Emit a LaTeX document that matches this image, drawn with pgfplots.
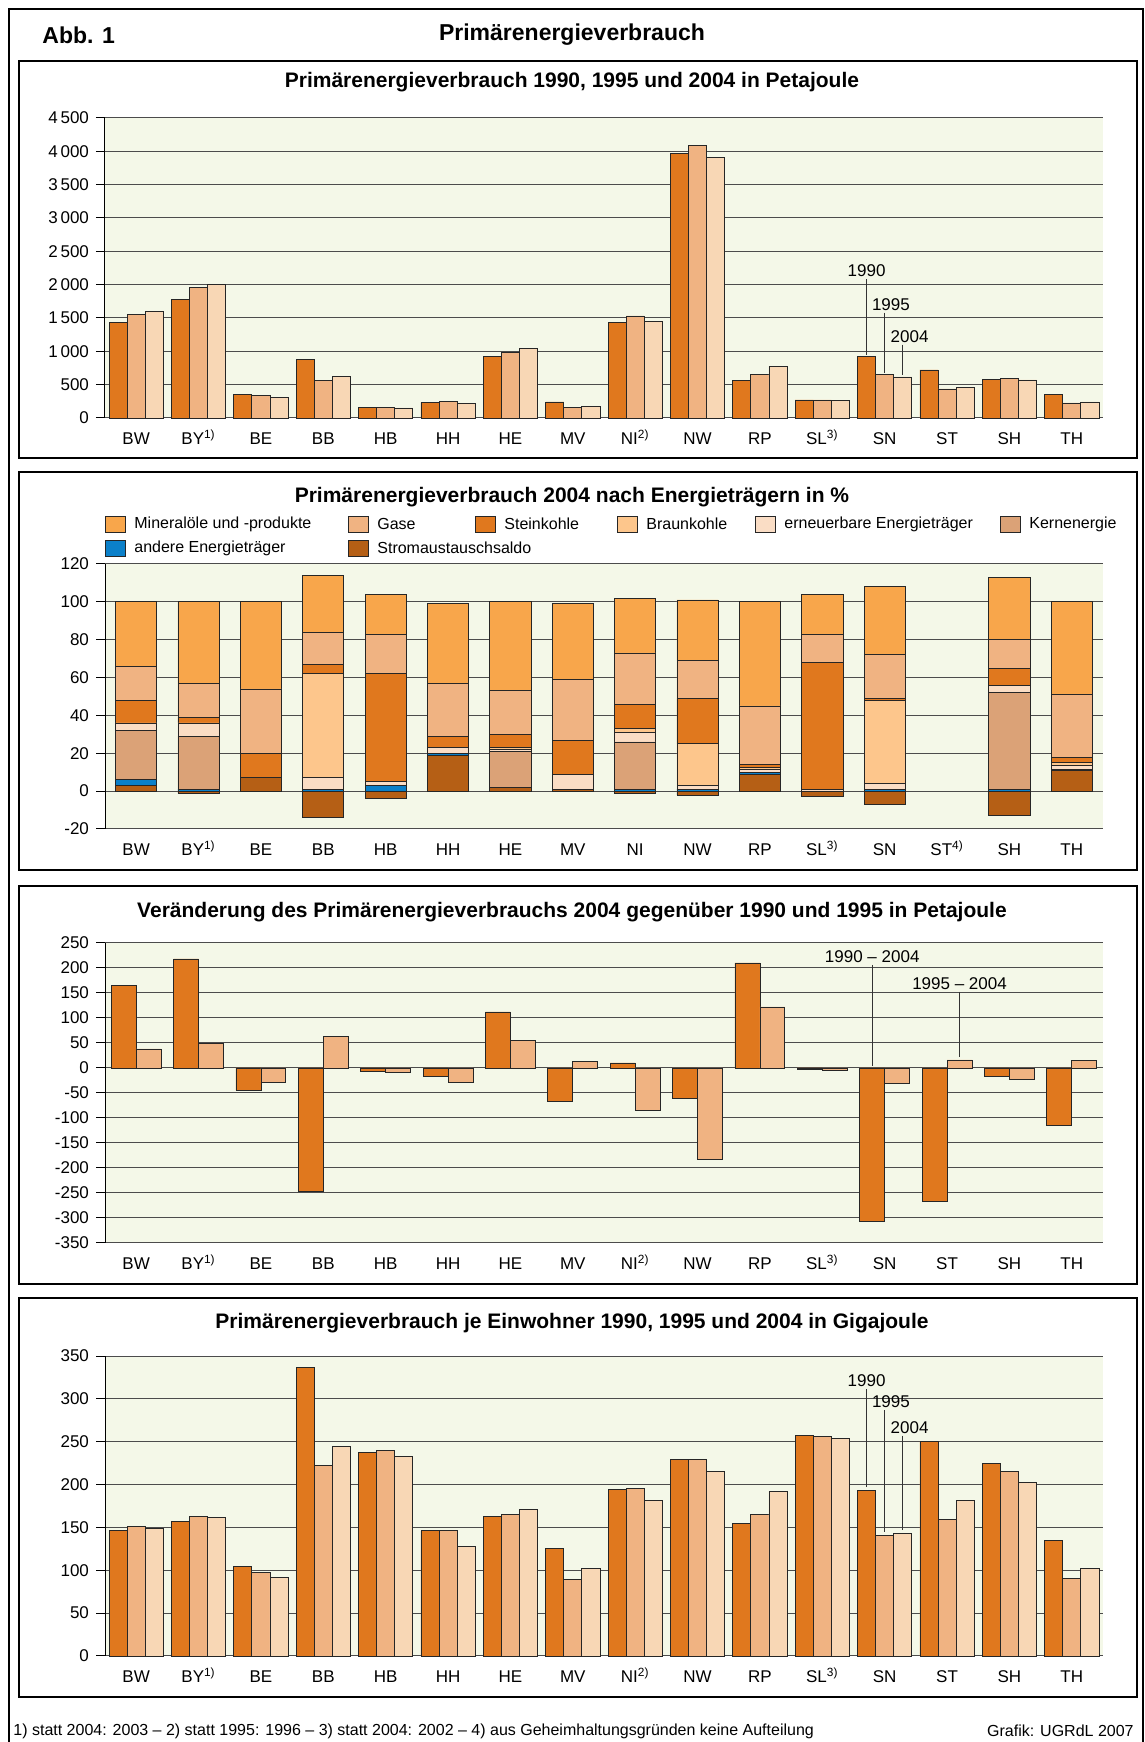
\documentclass[border=0pt]{standalone}
\usepackage{fontspec}
\setmainfont{Liberation Sans}
\usepackage{pgfplots}
\pgfplotsset{compat=1.18}
\usepackage{pgfplotstable}

\definecolor{c90}{HTML}{E0781E}
\definecolor{c95}{HTML}{F0B382}
\definecolor{c04}{HTML}{F8D7B5}
\definecolor{cMin}{HTML}{F8A64B}
\definecolor{cGas}{HTML}{F0B382}
\definecolor{cStein}{HTML}{E0781E}
\definecolor{cBraun}{HTML}{FDC68C}
\definecolor{cErn}{HTML}{FADDC5}
\definecolor{cKern}{HTML}{DBA277}
\definecolor{cAnd}{HTML}{0B80C9}
\definecolor{cStrom}{HTML}{B55F15}
\definecolor{bgg}{HTML}{F4F8E8}

\pgfplotstableread{
i a b c
0 1433 1553 1593
1 1784 1954 2004
2 351 336 306
3 872 561 621
4 155 160 150
5 235 245 215
6 927 982 1042
7 240 155 170
8 1437 1530 1448
9 3973 4093 3913
10 567 651 777
11 270 270 265
12 922 651 616
13 721 436 456
14 581 591 571
15 351 225 240
}\tabA

\pgfplotstableread{
i sn sp an ke er br st ga mi
0 0 3 3 26 4 0 12 18 34
1 -1 0 1 28 7 0 3 18 43
2 0 7 0 0 0 0 13 34 46
3 -14 0 1 0 6 55 5 17 30
4 -4 0 3 0 2 0 57 21 21
5 0 19 1 0 3 0 6 28 42
6 0 2 0 19 1 1 7 23 47
7 0 1 0 0 8 0 18 32 40
8 -1 0 1 25 5 2 13 27 29
9 -2 0 1 0 2 22 24 20 32
10 0 9 1 0 1.5 1 1.5 31 55
11 -3 0 0 0 1 0 67 15 21
12 -7 0 1 0 3 44 1 23 36
14 -13 0 1 51 4 0 9 15 33
15 0 11 0.5 0 2 1.5 3 33 49
}\tabB

\pgfplotstableread{
i a b
0 165 38
1 218 49
2 -45 -28
3 -247 63
4 -6 -9
5 -16 -28
6 112 55
7 -67 13
8 10 -84
9 -60 -183
10 210 122
11 -3 -5
12 -306 -31
13 -267 16
14 -17 -23
15 -114 15
}\tabC

\pgfplotstableread{
i a b c
0 147 151 149
1 157 163 162
2 104 97 92
3 337 222 244
4 238 240 233
5 146 147 128
6 163 165 171
7 126 89 102
8 194 195 181
9 229 229 215
10 155 165 192
11 257 256 254
12 193 141 143
13 250 159 181
14 225 215 202
15 135 90 102
}\tabD

\tikzset{ann/.style={font=\fontsize{8.5}{10}\selectfont, inner sep=1pt},
  ptitle/.style={font=\bfseries\fontsize{10.5}{12}\selectfont},
  lgbox/.style={draw=black!85, line width=0.4pt},
  lgtxt/.style={anchor=west, inner sep=0pt, font=\fontsize{8}{9.5}\selectfont}}
\pgfplotsset{
  panel/.style={
    scale only axis, width=499pt,
    xmin=-0.5, xmax=15.5,
    axis x line*=bottom, axis y line*=left,
    x axis line style={draw=none},
    xtick={0,...,15}, xtick style={draw=none},
    ymajorgrids, major grid style={black!70, line width=0.5pt},
    tick align=outside, major tick length=4.5pt,
    ytick style={black, line width=0.5pt},
    y axis line style={black, line width=0.5pt},
    axis background/.style={fill=bgg},
    tick label style={font=\fontsize{8.5}{10}\selectfont},
    xticklabel style={text height=6.5pt, text depth=1.5pt, yshift=1.5pt},
    /pgf/number format/assume math mode=true,
    /pgf/number format/1000 sep={\,},
    scaled y ticks=false,
    clip=false,
  },
  bars/.style={ybar, draw=black!85, line width=0.4pt},
}
\newcommand{\labsA}{BW,BY\textsuperscript{1)},BE,BB,HB,HH,HE,MV,NI\textsuperscript{2)},NW,RP,SL\textsuperscript{3)},SN,ST,SH,TH}
\newcommand{\lgitem}[4]{% x, y, colour, text
  \draw[lgbox, fill=#3] ({#1pt},{#2pt-4pt}) rectangle ({#1pt+10pt},{#2pt+4pt});
  \node[lgtxt] at ({#1pt+14.5pt},{#2pt}) {#4};}

\begin{document}
\begin{tikzpicture}
\path[use as bounding box] (0,0) rectangle (572.5pt,871pt);
% frames
\draw[line width=1.2pt] (4.5pt,-5pt) -- (4.5pt,866.5pt) -- (571.5pt,866.5pt) -- (571.5pt,-5pt);
\draw[line width=1pt] (9.5pt,642pt) rectangle (568.5pt,840.5pt);
\draw[line width=1pt] (9.5pt,436pt) rectangle (568.5pt,635pt);
\draw[line width=1pt] (9.5pt,229pt) rectangle (568.5pt,428pt);
\draw[line width=1pt] (9.5pt,22.5pt) rectangle (568.5pt,222pt);
% titles
\node[font=\bfseries\fontsize{11.5}{13}\selectfont, anchor=west, inner sep=0pt] at (21pt,853.5pt) {Abb. 1};
\node[font=\bfseries\fontsize{11.5}{13}\selectfont] at (286pt,853.5pt) {Primärenergieverbrauch};
\node[ptitle] at (286pt,830pt) {Primärenergieverbrauch 1990, 1995 und 2004 in Petajoule};
\node[ptitle] at (286pt,622.5pt) {Primärenergieverbrauch 2004 nach Energieträgern in \%};
\node[ptitle] at (286pt,415pt) {Veränderung des Primärenergieverbrauchs 2004 gegenüber 1990 und 1995 in Petajoule};
\node[ptitle] at (286pt,209.5pt) {Primärenergieverbrauch je Einwohner 1990, 1995 und 2004 in Gigajoule};
\node[font=\fontsize{8}{9}\selectfont, anchor=west, inner sep=0pt] at (6.5pt,5.5pt) {1) statt 2004: 2003 -- 2) statt 1995: 1996 -- 3) statt 2004: 2002 -- 4) aus Geheimhaltungsgründen keine Aufteilung};
\node[font=\fontsize{8}{9}\selectfont, anchor=east, inner sep=0pt] at (567pt,5.5pt) {Grafik: UGRdL 2007};
% legend of panel 2
\lgitem{52.5}{609}{cMin}{Mineralöle und -produkte}
\lgitem{174}{609}{cGas}{Gase}
\lgitem{237.5}{609}{cStein}{Steinkohle}
\lgitem{308.5}{609}{cBraun}{Braunkohle}
\lgitem{377.5}{609}{cErn}{erneuerbare Energieträger}
\lgitem{500}{609}{cKern}{Kernenergie}
\lgitem{52.5}{597}{cAnd}{andere Energieträger}
\lgitem{174}{597}{cStrom}{Stromaustauschsaldo}

% Panel 1
\begin{axis}[panel, at={(52.5pt,662pt)}, anchor=south west, height=150pt,
  ymin=0, ymax=4500, ytick={0,500,...,4500}, xticklabels/.expand once={\labsA}]
\addplot[bars, bar width=0.29, bar shift=-0.29, fill=c90] table[x=i,y=a]{\tabA};
\addplot[bars, bar width=0.29, bar shift=0, fill=c95] table[x=i,y=b]{\tabA};
\addplot[bars, bar width=0.29, bar shift=0.29, fill=c04] table[x=i,y=c]{\tabA};
\draw[black!80, line width=0.4pt] (axis cs:11.71,2080) -- (axis cs:11.71,950);
\draw[black!80, line width=0.4pt] (axis cs:12,1580) -- (axis cs:12,680);
\draw[black!80, line width=0.4pt] (axis cs:12.29,1100) -- (axis cs:12.29,650);
\node[ann, anchor=south] at (axis cs:11.71,2080) {1990};
\node[ann, anchor=south] at (axis cs:12.1,1580) {1995};
\node[ann, anchor=south] at (axis cs:12.4,1100) {2004};
\end{axis}

% Panel 2
\begin{axis}[panel, at={(52.5pt,456.5pt)}, anchor=south west, height=132.5pt,
  ymin=-20, ymax=120, ytick={-20,0,...,120},
  xticklabels={BW,BY\textsuperscript{1)},BE,BB,HB,HH,HE,MV,NI,NW,RP,SL\textsuperscript{3)},SN,ST\textsuperscript{4)},SH,TH},
  ybar stacked, bar width=0.66,
]
\addplot[fill=cStrom, draw=black!85, line width=0.4pt] table[x=i,y=sn]{\tabB};
\addplot[fill=cStrom, draw=black!85, line width=0.4pt] table[x=i,y=sp]{\tabB};
\addplot[fill=cAnd, draw=black!85, line width=0.4pt] table[x=i,y=an]{\tabB};
\addplot[fill=cKern, draw=black!85, line width=0.4pt] table[x=i,y=ke]{\tabB};
\addplot[fill=cErn, draw=black!85, line width=0.4pt] table[x=i,y=er]{\tabB};
\addplot[fill=cBraun, draw=black!85, line width=0.4pt] table[x=i,y=br]{\tabB};
\addplot[fill=cStein, draw=black!85, line width=0.4pt] table[x=i,y=st]{\tabB};
\addplot[fill=cGas, draw=black!85, line width=0.4pt] table[x=i,y=ga]{\tabB};
\addplot[fill=cMin, draw=black!85, line width=0.4pt] table[x=i,y=mi]{\tabB};
\end{axis}

% Panel 3
\begin{axis}[panel, at={(52.5pt,249.5pt)}, anchor=south west, height=150pt,
  ymin=-350, ymax=250, ytick={-350,-300,...,250}, xticklabels/.expand once={\labsA}]
\addplot[bars, bar width=0.4, bar shift=-0.2, fill=c90] table[x=i,y=a]{\tabC};
\addplot[bars, bar width=0.4, bar shift=0.2, fill=c95] table[x=i,y=b]{\tabC};
\draw[black!80, line width=0.4pt] (axis cs:11.8,206) -- (axis cs:11.8,3);
\draw[black!80, line width=0.4pt] (axis cs:13.2,152) -- (axis cs:13.2,22);
\node[ann, anchor=south] at (axis cs:11.8,206) {1990 -- 2004};
\node[ann, anchor=south] at (axis cs:13.2,152) {1995 -- 2004};
\end{axis}

% Panel 4
\begin{axis}[panel, at={(52.5pt,43pt)}, anchor=south west, height=150pt,
  ymin=0, ymax=350, ytick={0,50,...,350}, xticklabels/.expand once={\labsA}]
\addplot[bars, bar width=0.29, bar shift=-0.29, fill=c90] table[x=i,y=a]{\tabD};
\addplot[bars, bar width=0.29, bar shift=0, fill=c95] table[x=i,y=b]{\tabD};
\addplot[bars, bar width=0.29, bar shift=0.29, fill=c04] table[x=i,y=c]{\tabD};
\draw[black!80, line width=0.4pt] (axis cs:11.71,311) -- (axis cs:11.71,197);
\draw[black!80, line width=0.4pt] (axis cs:12,287) -- (axis cs:12,145);
\draw[black!80, line width=0.4pt] (axis cs:12.29,257) -- (axis cs:12.29,147);
\node[ann, anchor=south] at (axis cs:11.71,311) {1990};
\node[ann, anchor=south] at (axis cs:12.1,287) {1995};
\node[ann, anchor=south] at (axis cs:12.4,257) {2004};
\end{axis}
\end{tikzpicture}
\end{document}
